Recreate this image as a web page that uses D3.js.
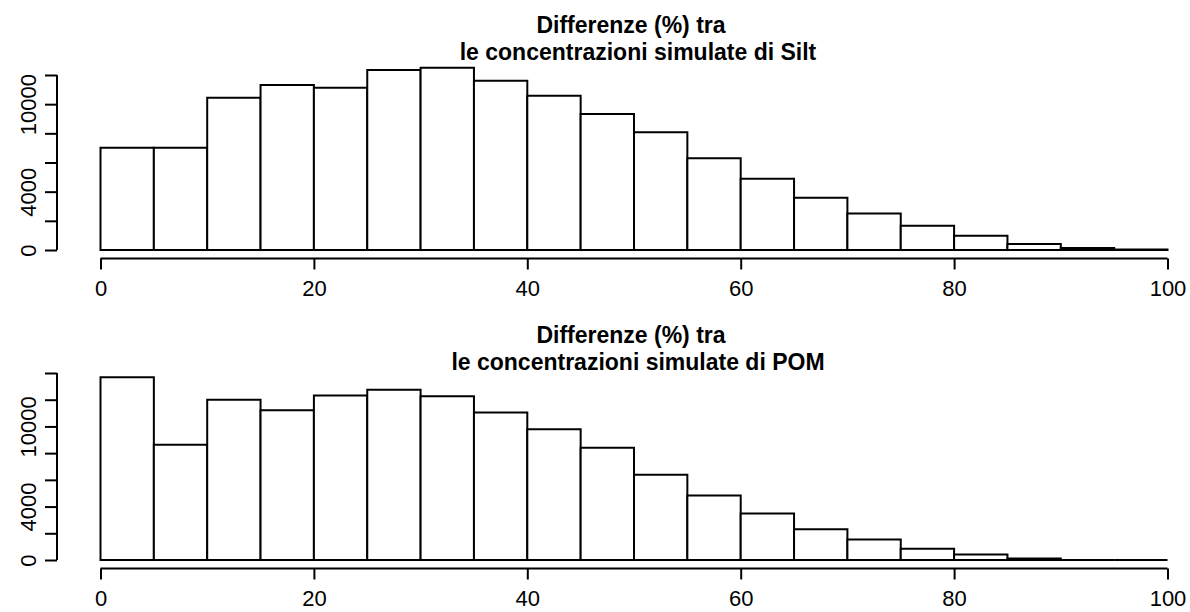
<!DOCTYPE html>
<html>
<head>
<meta charset="utf-8">
<script src="https://cdn.jsdelivr.net/npm/d3@7/dist/d3.min.js"></script>
<style>
  html, body { margin: 0; padding: 0; background: #fff; }
  svg { display: block; }
  text { font-family: "Liberation Sans", Arial, Helvetica, sans-serif; fill: #000; }
</style>
</head>
<body>
<svg id="chart" width="1190" height="612"></svg>
<script>
// Bin edges (percent difference), 5-wide bins from 0 to 100
const binStarts = [0,5,10,15,20,25,30,35,40,45,50,55,60,65,70,75,80,85,90,95];
const binWidth = 5;

// Counts per bin
const siltCounts = [7020,7010,10440,11310,11130,12340,12500,11610,10580,9325,8070,6290,4890,3590,2510,1670,980,410,140,40];
const pomCounts  = [13690,8625,11990,11215,12315,12740,12265,11045,9795,8400,6380,4830,3480,2305,1535,840,410,110,0,0];

// Axis ticks and labels
const xTicks = [0,20,40,60,80,100];
const siltYTicks = [0,2000,4000,6000,8000,10000,12000];
const siltYLabels = ["0","","4000","","","10000",""];
const pomYTicks = [0,2000,4000,6000,8000,10000,12000,14000];
const pomYLabels = ["0","","4000","","","10000","",""];

const titleLine1 = "Differenze (%) tra";
const siltTitle2 = "le concentrazioni simulate di Silt";
const pomTitle2 = "le concentrazioni simulate di POM";

const svg = d3.select("#chart");

function panel(cfg) {
  const g = svg.append("g").attr("transform", `translate(0,${cfg.dy})`);
  const x = d3.scaleLinear().domain([0,100]).range([100.5,1167.5]);
  const y = d3.scaleLinear().domain([0, cfg.yMax]).range([250, cfg.yTop]);

  // bars (drawn as closed paths so that empty bins still show as a line)
  g.selectAll("path.bar").data(cfg.counts).enter().append("path")
    .attr("class","bar")
    .attr("d", (d,i) => {
      const x0 = x(binStarts[i]), x1 = x(binStarts[i]+binWidth);
      return `M${x0},${y(0)}V${y(d)}H${x1}V${y(0)}Z`;
    })
    .attr("fill","#fff").attr("stroke","#000").attr("stroke-width",2);

  // x axis
  const xa = g.append("g").attr("transform","translate(0,258.5)")
    .call(d3.axisBottom(x).tickValues(xTicks).tickSize(11).tickPadding(11).tickSizeOuter(0));
  xa.select(".domain").attr("stroke-width",2).attr("d", `M${x(0)},0H${x(100)}`);
  xa.selectAll(".tick line").attr("stroke-width",2);
  xa.selectAll(".tick text").attr("font-size","22px").attr("fill","#000");

  // y axis
  const ya = g.append("g").attr("transform","translate(57,0)")
    .call(d3.axisLeft(y).tickValues(cfg.yTicks).tickSize(12).tickSizeOuter(0)
      .tickFormat((d,i) => cfg.yLabels[i]));
  ya.select(".domain").attr("stroke-width",2).attr("d", `M0,${y(0)}V${y(cfg.yTicks[cfg.yTicks.length-1])}`);
  ya.selectAll(".tick line").attr("stroke-width",2);
  ya.selectAll(".tick text")
    .attr("font-size","22px").attr("fill","#000")
    .attr("text-anchor","middle")
    .attr("x",0).attr("dy",0)
    .attr("transform","translate(-21,0) rotate(-90)");

  // title
  g.append("text").attr("x",631).attr("y",33).attr("text-anchor","middle")
    .attr("font-size","23px").attr("font-weight","bold").text(titleLine1);
  g.append("text").attr("x",638).attr("y",59.5).attr("text-anchor","middle")
    .attr("font-size","23px").attr("font-weight","bold").text(cfg.title2);
}

panel({dy:0, counts:siltCounts, yMax:12000, yTop:75, yTicks:siltYTicks, yLabels:siltYLabels, title2:siltTitle2});
panel({dy:310, counts:pomCounts, yMax:14000, yTop:63, yTicks:pomYTicks, yLabels:pomYLabels, title2:pomTitle2});
</script>
</body>
</html>
